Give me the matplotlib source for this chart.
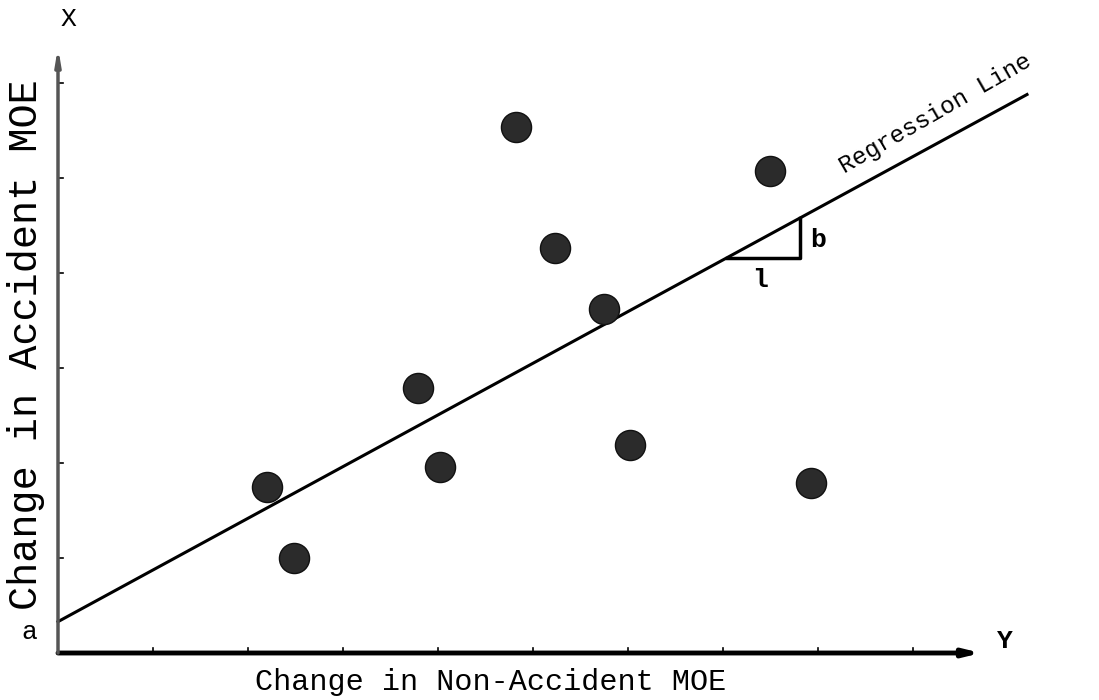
import matplotlib
matplotlib.use("Agg")
import matplotlib.pyplot as plt
import numpy as np

# Data (in axis units; one unit = one tick spacing)
pts_x = [2.20, 2.48, 3.79, 4.02, 4.82, 5.23, 5.75, 6.02, 7.49, 7.93]
pts_y = [1.75, 1.00, 2.79, 1.96, 5.54, 4.26, 3.62, 2.19, 5.07, 1.79]
intercept_a = 0.33
slope_b = 0.544
line_x_end = 10.2
tri_x0, tri_x1 = 7.04, 7.81
x_ticks = [1, 2, 3, 4, 5, 6, 7, 8, 9]
y_ticks = [1, 2, 3, 4, 5, 6]

FONT = "Liberation Mono"
W, H = 1099, 700
fig = plt.figure(figsize=(W / 100, H / 100), dpi=100)
ax = fig.add_axes([0, 0, 1, 1])
# pixel mapping: origin at (58, 653), 95 px per unit
u = 95.0
ax.set_xlim(-58 / u, (W - 58) / u)
ax.set_ylim(-(H - 653) / u, 653 / u)
ax.axis("off")

# axes with arrows
ax.annotate("", xy=((981 - 58) / u, 0), xytext=(0, 0),
            arrowprops=dict(arrowstyle="-|>,head_length=0.9,head_width=0.22",
                            lw=3.5, color="black", shrinkA=0, shrinkB=0))
ax.annotate("", xy=(0, (653 - 47) / u), xytext=(0, 0),
            arrowprops=dict(arrowstyle="-|>,head_length=0.9,head_width=0.15",
                            lw=2.5, color="#555555", shrinkA=0, shrinkB=0))
for t in x_ticks:
    ax.plot([t, t], [0, 0.05], color="black", lw=1.2)
for t in y_ticks:
    ax.plot([0, 0.05], [t, t], color="black", lw=1.2)

# regression line
lx = np.array([0, line_x_end])
ax.plot(lx, intercept_a + slope_b * lx, color="black", lw=2.2)

# slope triangle
yt0 = intercept_a + slope_b * tri_x0
yt1 = intercept_a + slope_b * tri_x1
ax.plot([tri_x0, tri_x1, tri_x1], [yt0, yt0, yt1], color="black", lw=2.5)

# points
ax.scatter(pts_x, pts_y, s=470, color="#2b2b2b", edgecolors="#111111",
           linewidths=1.0, zorder=3)

# text
ax.text((29 - 58) / u, (653 - 632) / u, "a",
        fontsize=19, family=FONT, ha="center", va="center")
ax.text((68 - 58) / u, (653 - 19) / u, "X", fontsize=19, family=FONT,
        ha="center", va="center")
ax.text((1005 - 58) / u, (653 - 641) / u, "Y", fontsize=19, family=FONT,
        fontweight="bold", ha="center", va="center")
ax.text((760 - 58) / u, (653 - 280) / u, "l", fontsize=19, family=FONT,
        fontweight="bold", ha="center", va="center")
ax.text((818 - 58) / u, (653 - 240) / u, "b", fontsize=19, family=FONT,
        fontweight="bold", ha="center", va="center")
ax.text((935 - 58) / u, (653 - 114) / u, "Regression Line", fontsize=17.5,
        family=FONT, ha="center", va="center", rotation=30,
        rotation_mode="anchor")
ax.text((491 - 58) / u, (653 - 682) / u, "Change in Non-Accident MOE",
        fontsize=21.7, family=FONT, ha="center", va="center")
ax.text((26 - 58) / u, (653 - 345) / u, "Change in Accident MOE",
        fontsize=29, family=FONT, ha="center", va="center", rotation=90)

fig.savefig("out.png", dpi=100)
